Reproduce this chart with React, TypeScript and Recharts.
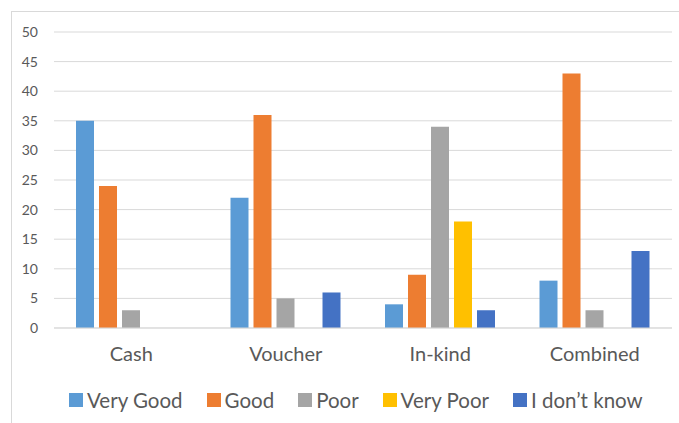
import React from 'react';
import { BarChart, Bar, XAxis, YAxis, CartesianGrid, Legend } from 'recharts';

const categories = ['Cash', 'Voucher', 'In-kind', 'Combined'];
const veryGood = [35, 22, 4, 8];
const good = [24, 36, 9, 43];
const poor = [3, 5, 34, 3];
const veryPoor = [0, 0, 18, 0];
const dontKnow = [0, 6, 3, 13];
const yTicks = [0, 5, 10, 15, 20, 25, 30, 35, 40, 45, 50];

const seriesDefs = [
  { key: 'veryGood', name: 'Very Good', color: '#5B9BD5' },
  { key: 'good', name: 'Good', color: '#ED7D31' },
  { key: 'poor', name: 'Poor', color: '#A5A5A5' },
  { key: 'veryPoor', name: 'Very Poor', color: '#FFC000' },
  { key: 'dontKnow', name: 'I don\u2019t know', color: '#4472C4' },
];

const data = categories.map((c, i) => ({
  name: c,
  veryGood: veryGood[i],
  good: good[i],
  poor: poor[i],
  veryPoor: veryPoor[i],
  dontKnow: dontKnow[i],
}));

const FONT = 'Lato, "Open Sans", sans-serif';
const TEXT = '#595959';

const renderLegend = (props: any) => {
  const payload = [...(props.payload || [])].sort(
    (a: any, b: any) =>
      seriesDefs.findIndex((s) => s.name === a.value) - seriesDefs.findIndex((s) => s.name === b.value)
  );
  return (
    <div style={{ display: 'flex', justifyContent: 'flex-start', paddingLeft: 69, height: 24, alignItems: 'center' }}>
      {payload.map((p: any, i: number) => (
        <div key={i} style={{ display: 'flex', alignItems: 'center', marginRight: 24 }}>
          <div style={{ width: 14, height: 14, background: p.color, marginRight: 4 }} />
          <span style={{ fontFamily: FONT, fontSize: 20.5, color: TEXT, lineHeight: '24px' }}>{p.value}</span>
        </div>
      ))}
    </div>
  );
};

const App: React.FC = () => {
  return (
    <div style={{ position: 'absolute', left: 0, top: 0, width: 679, height: 423, background: '#fff', overflow: 'hidden' }}>
      <div
        style={{
          position: 'absolute',
          left: 11,
          top: 11,
          width: 700,
          height: 440,
          borderLeft: '1px solid #d9d9d9',
          borderTop: '1px solid #d9d9d9',
        }}
      />
      <BarChart
        width={679}
        height={423}
        data={data}
        margin={{ top: 32, right: 7, left: 0, bottom: 11 }}
        barSize={18}
        barGap={5}
        style={{ position: 'absolute', left: 0, top: 0 }}
      >
        <CartesianGrid vertical={false} stroke="#d9d9d9" />
        <XAxis
          dataKey="name"
          height={60}
          axisLine={{ stroke: '#d9d9d9' }}
          tickLine={false}
          tickSize={0}
          tickMargin={19}
          tick={{ fill: TEXT, fontSize: 20, fontFamily: FONT }}
        />
        <YAxis
          width={54}
          domain={[0, 50]}
          ticks={yTicks}
          axisLine={false}
          tickLine={false}
          tickSize={0}
          tickMargin={16}
          tick={{ fill: TEXT, fontSize: 14, fontFamily: FONT }}
        />
        <Legend verticalAlign="bottom" content={renderLegend} />
        {seriesDefs.map((s) => (
          <Bar key={s.key} dataKey={s.key} name={s.name} fill={s.color} isAnimationActive={false} />
        ))}
      </BarChart>
    </div>
  );
};

export default App;
